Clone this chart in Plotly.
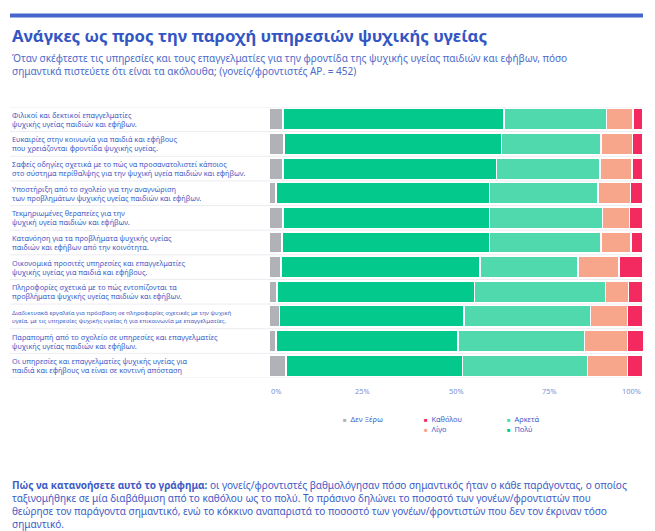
import plotly.graph_objects as go

# factors, top to bottom
factors = [
    "Φιλικοί και δεκτικοί επαγγελματίες<br>ψυχικής υγείας παιδιών και εφήβων.",
    "Ευκαιρίες στην κοινωνία για παιδιά και εφήβους<br>που χρειάζονται φροντίδα ψυχικής υγείας.",
    "Σαφείς οδηγίες σχετικά με το πώς να προσανατολιστεί κάποιος<br>στο σύστημα περίθαλψης για την ψυχική υγεία παιδιών και εφήβων.",
    "Υποστήριξη από το σχολείο για την αναγνώριση<br>των προβλημάτων ψυχικής υγείας παιδιών και εφήβων.",
    "Τεκμηριωμένες θεραπείες για την<br>ψυχική υγεία παιδιών και εφήβων.",
    "Κατανόηση για τα προβλήματα ψυχικής υγείας<br>παιδιών και εφήβων από την κοινότητα.",
    "Οικονομικά προσιτές υπηρεσίες και επαγγελματίες<br>ψυχικής υγείας για παιδιά και εφήβους.",
    "Πληροφορίες σχετικά με το πώς εντοπίζονται τα<br>προβλήματα ψυχικής υγείας παιδιών και εφήβων.",
    "Διαδικτυακά εργαλεία για πρόσβαση σε πληροφορίες σχετικές με την ψυχική<br>υγεία, με τις υπηρεσίες ψυχικής υγείας ή για επικοινωνία με επαγγελματίες.",
    "Παραπομπή από το σχολείο σε υπηρεσίες και επαγγελματίες<br>ψυχικής υγείας παιδιών και εφήβων.",
    "Οι υπηρεσίες και επαγγελματίες ψυχικής υγείας για<br>παιδιά και εφήβους να είναι σε κοντινή απόσταση",
]

# shares (%) per answer
den_xero = [3.7, 4.0, 3.7, 1.9, 3.7, 3.5, 3.2, 2.1, 2.8, 1.9, 4.5]
poly     = [59.1, 58.2, 57.1, 57.0, 55.3, 55.5, 53.2, 52.9, 49.3, 48.7, 47.3]
arketa   = [27.4, 26.6, 27.7, 29.1, 30.2, 29.8, 26.2, 35.0, 33.8, 33.7, 33.4]
ligo     = [7.1, 8.4, 8.6, 8.7, 7.2, 8.0, 11.0, 6.1, 10.0, 11.5, 10.7]
katholou = [2.7, 2.8, 2.9, 3.3, 3.5, 3.2, 6.4, 3.7, 4.0, 4.3, 4.0]

tick_vals = [0, 25, 50, 75, 100]
tick_text = ["0%", "25%", "50%", "75%", "100%"]

BLUE = "#3d5cc6"
FONT = "Noto Sans"

series = [
    ("Δεν Ξέρω", den_xero, "#b1b1b8"),
    ("Πολύ", poly, "#03ca8c"),
    ("Αρκετά", arketa, "#50d9ac"),
    ("Λίγο", ligo, "#f8a68b"),
    ("Καθόλου", katholou, "#f22a5f"),
]
colors = {name: c for name, _, c in series}

ypos = list(range(len(factors)))

# pixel box of the bars on the page
W, H = 655, 531
PX0, PX1, PY0, PY1 = 269, 643, 107, 378
PW, PH = PX1 - PX0, PY1 - PY0


def px(x):
    return (x - PX0) / PW


def py(y):
    return (PY1 - y) / PH


fig = go.Figure()
for name, vals, col in series:
    fig.add_trace(go.Bar(
        y=ypos, x=vals, name=name, orientation="h",
        marker=dict(color=col, line=dict(color="white", width=1.5)),
        showlegend=False,
        hovertemplate="%{x:.1f}%<extra>" + name + "</extra>",
    ))

# left-aligned factor labels
for i, lab in enumerate(factors):
    small = len(lab) > 140
    fig.add_annotation(
        x=px(10), y=i, xref="paper", yref="y", text=lab, showarrow=False,
        xanchor="left", yanchor="middle", align="left",
        font=dict(family=FONT, size=6.1 if small else 7.3, color=BLUE),
    )

# row separators
for i in range(len(factors) + 1):
    fig.add_shape(type="line", xref="paper", yref="y", x0=px(10), x1=1,
                  y0=i - 0.5, y1=i - 0.5, layer="below",
                  line=dict(color="#ececf1", width=1))

# x tick labels: first flush left, last flush right, like the source
for k, (tv, tt) in enumerate(zip(tick_vals, tick_text)):
    anchor = "left" if k == 0 else ("right" if k == len(tick_vals) - 1 else "center")
    fig.add_annotation(
        x=tv, y=py(391), xref="x", yref="paper", text=tt, showarrow=False,
        xanchor=anchor, yanchor="middle",
        font=dict(family=FONT, size=7.4, color="#7a8fd6"),
    )

# legend built as text (three columns, like the source)
legend_cols = [["Δεν Ξέρω"], ["Καθόλου", "Λίγο"], ["Αρκετά", "Πολύ"]]
col_x = [341, 422, 505]
for cx, names in zip(col_x, legend_cols):
    for r, name in enumerate(names):
        fig.add_annotation(
            x=px(cx), y=py(419 + r * 10),
            xref="paper", yref="paper", showarrow=False,
            xanchor="left", yanchor="middle",
            text=f"<span style='color:{colors[name]};font-size:6px'>■</span>  {name}",
            font=dict(family=FONT, size=7.4, color=BLUE),
        )

# title block
fig.add_shape(type="rect", xref="paper", yref="paper",
              x0=px(10), x1=1, y0=py(17.5), y1=py(13.5),
              fillcolor="#4566cc", line=dict(width=0))
fig.add_annotation(
    x=px(10), y=py(35), xref="paper", yref="paper",
    showarrow=False, xanchor="left", yanchor="middle",
    text="<b>Ανάγκες ως προς την παροχή υπηρεσιών ψυχικής υγείας</b>",
    font=dict(family=FONT, size=16.7, color="#3456c4"),
)
fig.add_annotation(
    x=px(10), y=py(64.5), xref="paper", yref="paper",
    showarrow=False, xanchor="left", yanchor="middle", align="left",
    text="Όταν σκέφτεστε τις υπηρεσίες και τους επαγγελματίες για την φροντίδα της ψυχικής υγείας παιδιών και εφήβων, πόσο<br>"
         "σημαντικά πιστεύετε ότι είναι τα ακόλουθα; (γονείς/φροντιστές ΑΡ. = 452)",
    font=dict(family=FONT, size=10, color="#4d6bc9"),
)

# explanation below
fig.add_annotation(
    x=px(10), y=py(504.5), xref="paper", yref="paper",
    showarrow=False, xanchor="left", yanchor="middle", align="left",
    text="<b>Πώς να κατανοήσετε αυτό το γράφημα:</b> οι γονείς/φροντιστές βαθμολόγησαν πόσο σημαντικός ήταν ο κάθε παράγοντας, ο οποίος<br>"
         "ταξινομήθηκε σε μία διαβάθμιση από το καθόλου ως το πολύ. Το πράσινο δηλώνει το ποσοστό των γονέων/φροντιστών που<br>"
         "θεώρησε τον παράγοντα σημαντικό, ενώ το κόκκινο αναπαριστά το ποσοστό των γονέων/φροντιστών που δεν τον έκριναν τόσο<br>"
         "σημαντικό.",
    font=dict(family=FONT, size=10, color="#3d5cc6"),
)

fig.update_layout(
    width=W, height=H,
    margin=dict(l=PX0, r=W - PX1, t=PY0, b=H - PY1),
    barmode="stack", bargap=0.13,
    plot_bgcolor="white", paper_bgcolor="white",
    font=dict(family=FONT, color=BLUE),
    xaxis=dict(range=[0, 100], showticklabels=False, showgrid=False,
               zeroline=False, showline=False, ticks=""),
    yaxis=dict(range=[10.5, -0.5], showticklabels=False, showgrid=False,
               zeroline=False, showline=False, ticks=""),
)

# page body margin off so the figure fills the window exactly
fig.write_html("out.html", config={"displayModeBar": False},
               post_script="document.body.style.margin='0';document.body.style.overflow='hidden';")
